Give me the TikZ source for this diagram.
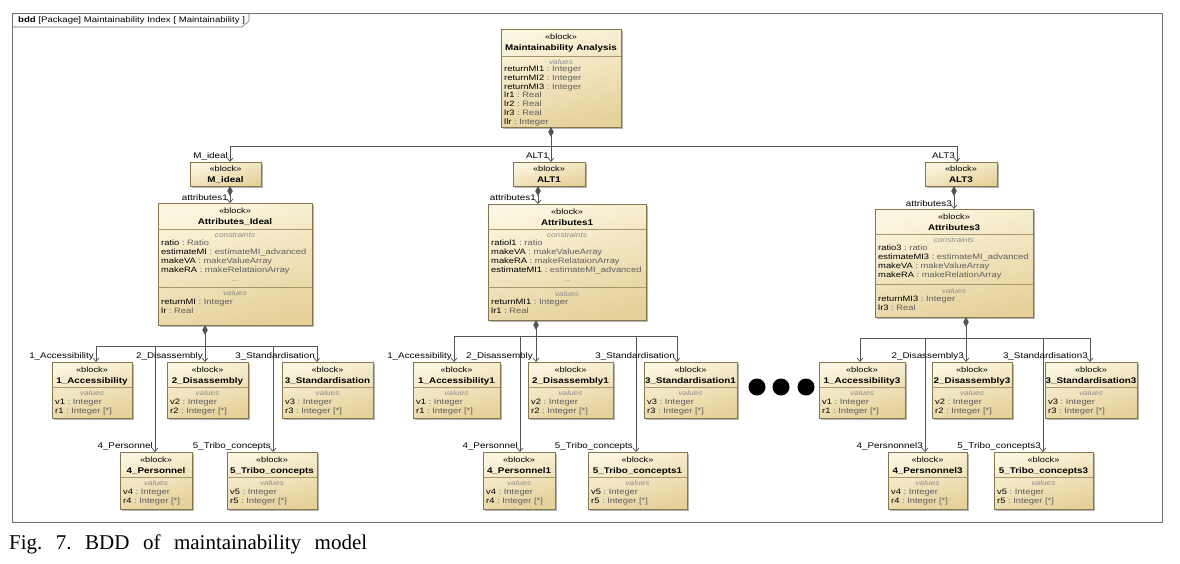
\documentclass[tikz,border=0pt]{standalone}
\usepackage{fontspec}
\setmainfont[FakeStretch=1.2]{Liberation Sans}
\newfontfamily\capfont{Liberation Serif}
\usetikzlibrary{arrows.meta,calc,shadows}

\definecolor{blkA}{HTML}{FCF6E0}
\definecolor{blkB}{HTML}{E5D19A}
\definecolor{blkD}{HTML}{86764E}
\definecolor{sepc}{HTML}{A8966A}
\definecolor{typec}{HTML}{5E5E5E}
\definecolor{hdc}{HTML}{8C8C8C}
\definecolor{linec}{HTML}{555555}
\definecolor{framec}{HTML}{707070}

\newcounter{tn}
\newcommand\fsz{\fontsize{7.8}{9}\selectfont}
\newcommand\lsz{\fontsize{8.2}{9}\selectfont}

\tikzset{
 blk/.style={draw=blkD, line width=0.6pt, top color=blkA, bottom color=blkB, shading angle=15,
   inner sep=0pt, outer sep=0pt,
   drop shadow={shadow xshift=1.8pt, shadow yshift=-1.8pt, opacity=0.4, fill=black!70}},
 txt/.style={inner sep=0pt, text height=5.6pt, text depth=0pt},
 stereo/.style={txt, font=\fontsize{7.7}{9}\selectfont},
 bname/.style={txt, font=\fontsize{8.2}{9}\selectfont\bfseries},
 comp/.style={txt, font=\fontsize{6.9}{8}\selectfont\itshape, text=hdc},
 itm/.style={txt, anchor=west, font=\fsz},
 lbl/.style={inner sep=0pt, anchor=base east, font=\lsz},
 sepline/.style={draw=sepc, line width=0.5pt},
 conn/.style={draw=linec, line width=0.7pt},
 arr/.style={-{Straight Barb[length=3.5pt,width=6pt]}},
 dia/.style={{Diamond[length=10pt,width=5.5pt]}-},
 diaarr/.style={{Diamond[length=10pt,width=5.5pt]}-{Straight Barb[length=3.5pt,width=6pt]}},
}

% box: name, x1, y1, x2, y2
\newcommand\bbox[5]{\node[blk, minimum width={(#4-#2)*1pt}, minimum height={(#5-#3)*1pt}] (#1) at ({(#2+#4)/2},{(#3+#5)/2}) {};}
\newcommand\bhead[4]{%
 \stepcounter{tn}\node[stereo] (t\arabic{tn}) at ($(#1.north)+(0,#2)$) {«block»};
 \stepcounter{tn}\node[bname] (t\arabic{tn}) at ($(#1.north)+(0,#3)$) {#4};}
\newcommand\bsep[2]{\draw[sepline] ($(#1.north west)+(0,#2)$) -- ($(#1.north east)+(0,#2)$);}
\newcommand\bcomp[3]{\stepcounter{tn}\node[comp] (t\arabic{tn}) at ($(#1.north)+(0,#2)$) {#3};}
\newcommand\bitem[4]{\stepcounter{tn}\node[itm] (t\arabic{tn}) at ($(#1.north west)+(3,#2)$) {#3\ \textcolor{typec}{:\ #4}};}
% small block: node, x1,y1,x2,y2, Name, v, r
\newcommand\sblk[8]{\bbox{#1}{#2}{#3}{#4}{#5}\bhead{#1}{7.5}{18.5}{#6}\bsep{#1}{25}\bcomp{#1}{31}{values}
 \bitem{#1}{39.5}{#7}{Integer}\bitem{#1}{48.5}{#8}{Integer [*]}}
\newcommand\lab[4]{\node[lbl] (#1) at (#2,#3) {#4};}

\begin{document}
\begin{tikzpicture}[x=1pt,y=-1pt]
\useasboundingbox (0,0) rectangle (1180,563);
\fill[white] (0,0) rectangle (1180,563);

% frame
\draw[draw=framec, line width=0.7pt] (12,13) rectangle (1162,522);
\draw[draw=framec, line width=0.6pt] (12,27) -- (242,27) -- (249,21) -- (249,13);
\node[txt, anchor=west, font=\fontsize{8}{9}\selectfont] (flbl) at (18,20) {\textbf{bdd} [Package] Maintainability Index [ Maintainability ]};

% top block
\bbox{ma}{501}{29}{621}{127}
\bhead{ma}{8}{19}{Maintainability Analysis}
\bsep{ma}{27}
\bcomp{ma}{33}{values}
\bitem{ma}{40}{returnMI1}{Integer}
\bitem{ma}{48.7}{returnMI2}{Integer}
\bitem{ma}{57.4}{returnMI3}{Integer}
\bitem{ma}{66.1}{lr1}{Real}
\bitem{ma}{74.8}{lr2}{Real}
\bitem{ma}{83.5}{lr3}{Real}
\bitem{ma}{92.2}{llr}{Integer}

% second level
\bbox{mideal}{190}{162}{261}{186}\bhead{mideal}{6.5}{17.5}{M\_ideal}
\bbox{alt1}{513}{162}{585}{186}\bhead{alt1}{6.5}{17.5}{ALT1}
\bbox{alt3}{925}{162}{997}{186}\bhead{alt3}{6.5}{17.5}{ALT3}

% attributes blocks
\bbox{aid}{158}{203}{312}{325}
\bhead{aid}{8}{19}{Attributes\_Ideal}
\bsep{aid}{26}\bcomp{aid}{32}{constraints}
\bitem{aid}{40}{ratio}{Ratio}
\bitem{aid}{49}{estimateMI}{estimateMI\_advanced}
\bitem{aid}{58}{makeVA}{makeValueArray}
\bitem{aid}{67}{makeRA}{makeRelataionArray}
\bcomp{aid}{76}{...}
\bsep{aid}{84}\bcomp{aid}{90}{values}
\bitem{aid}{99}{returnMI}{Integer}
\bitem{aid}{108}{lr}{Real}

\bbox{at1}{488}{204}{646}{320}
\bhead{at1}{7.5}{18.5}{Attributes1}
\bsep{at1}{25}\bcomp{at1}{31}{constraints}
\bitem{at1}{39}{ratiol1}{ratio}
\bitem{at1}{48}{makeVA}{makeValueArray}
\bitem{at1}{57}{makeRA}{makeRelataionArray}
\bitem{at1}{66}{estimateMI1}{estimateMI\_advanced}
\bcomp{at1}{75}{...}
\bsep{at1}{83}\bcomp{at1}{89.5}{values}
\bitem{at1}{98}{returnMI1}{Integer}
\bitem{at1}{107}{lr1}{Real}

\bbox{at3}{875}{209}{1033}{317}
\bhead{at3}{7.5}{18.5}{Attributes3}
\bsep{at3}{25}\bcomp{at3}{31}{constraints}
\bitem{at3}{39}{ratio3}{ratio}
\bitem{at3}{48}{estimateMI3}{estimateMI\_advanced}
\bitem{at3}{57}{makeVA}{makeValueArray}
\bitem{at3}{66}{makeRA}{makeRelationArray}
\bsep{at3}{75}\bcomp{at3}{82}{values}
\bitem{at3}{90}{returnMI3}{Integer}
\bitem{at3}{99}{lr3}{Real}

% leaf blocks
\sblk{acc1}{52}{362}{132}{418}{1\_Accessibility}{v1}{r1}
\sblk{dis1}{167}{362}{248}{418}{2\_Disassembly}{v2}{r2}
\sblk{std1}{282}{362}{373}{418}{3\_Standardisation}{v3}{r3}
\sblk{pers1}{120}{452}{192}{509}{4\_Personnel}{v4}{r4}
\sblk{tri1}{227}{452}{317}{509}{5\_Tribo\_concepts}{v5}{r5}

\sblk{acc2}{413}{362}{500}{418}{1\_Accessibility1}{v1}{r1}
\sblk{dis2}{528}{362}{613}{418}{2\_Disassembly1}{v2}{r2}
\sblk{std2}{644}{362}{737}{418}{3\_Standardisation1}{v3}{r3}
\sblk{pers2}{483}{452}{555}{509}{4\_Personnel1}{v4}{r4}
\sblk{tri2}{588}{452}{687}{509}{5\_Tribo\_concepts1}{v5}{r5}

\sblk{acc3}{819}{362}{905}{418}{1\_Accessibility3}{v1}{r1}
\sblk{dis3}{932}{362}{1012}{418}{2\_Disassembly3}{v2}{r2}
\sblk{std3}{1045}{362}{1137}{418}{3\_Standardisation3}{v3}{r3}
\sblk{pers3}{888}{452}{967}{509}{4\_Persnonnel3}{v4}{r4}
\sblk{tri3}{994}{452}{1093}{509}{5\_Tribo\_concepts3}{v5}{r5}

% dots
\fill (757,387) circle (8.5);
\fill (781,387) circle (8.5);
\fill (806,387) circle (8.5);

% top connectors
\coordinate (tj) at (551,146);
\draw[conn, dia] (ma.south -| tj) -- (tj);
\draw[conn, arr] (tj) -| ([xshift=4.5pt]mideal.north);
\draw[conn, arr] (tj) -- (tj |- alt1.north);
\draw[conn, arr] (tj) -| ([xshift=-4pt]alt3.north);

\coordinate (m1) at ([xshift=4.5pt]mideal.south);
\draw[conn, diaarr] (m1) -- (m1 |- aid.north);
\coordinate (a1) at ([xshift=-11pt]alt1.south);
\draw[conn, diaarr] (a1) -- (a1 |- at1.north);
\coordinate (a3) at ([xshift=-7pt]alt3.south);
\draw[conn, diaarr] (a3) -- (a3 |- at3.north);

% group 1
\coordinate (g1) at (205,346);
\draw[conn, dia] (g1 |- aid.south) -- (g1);
\draw[conn, arr] (g1) -| ([xshift=4pt]acc1.north);
\draw[conn, arr] (g1) -- (g1 |- dis1.north);
\draw[conn, arr] (g1) -| ([xshift=-10.5pt]std1.north);
\draw[conn, arr] (g1) -| ([xshift=-1pt]pers1.north);
\draw[conn, arr] (g1) -| ([xshift=1pt]tri1.north);

% group 2
\coordinate (g2) at (536,336);
\draw[conn, dia] (g2 |- at1.south) -- (g2);
\draw[conn, arr] (g2) -| ([xshift=-2.5pt]acc2.north);
\draw[conn, arr] (g2) -- (g2 |- dis2.north);
\draw[conn, arr] (g2) -| ([xshift=-13.5pt]std2.north);
\draw[conn, arr] (g2) -| ([xshift=1pt]pers2.north);
\draw[conn, arr] (g2) -| ([xshift=-1.5pt]tri2.north);

% group 3
\coordinate (g3) at (966,338);
\draw[conn, dia] (g3 |- at3.south) -- (g3);
\draw[conn, arr] (g3) -| ([xshift=-2pt]acc3.north);
\draw[conn, arr] (g3) -- (g3 |- dis3.north);
\draw[conn, arr] (g3) -| ([xshift=-1pt]std3.north);
\draw[conn, arr] (g3) -| ([xshift=-2.5pt]pers3.north);
\draw[conn, arr] (g3) -| ([xshift=-0.5pt]tri3.north);

% labels
\lab{l1}{228}{158.5}{M\_ideal}
\lab{l2}{549}{158.5}{ALT1}
\lab{l3}{955}{158.5}{ALT3}
\lab{l4}{228}{200.5}{attributes1}
\lab{l5}{536}{200.5}{attributes1}
\lab{l6}{952}{206}{attributes3}
\lab{l7}{94}{358}{1\_Accessibility}
\lab{l8}{203}{358}{2\_Disassembly}
\lab{l9}{315}{358}{3\_Standardisation}
\lab{l10}{153}{448}{4\_Personnel}
\lab{l11}{271}{448}{5\_Tribo\_concepts}
\lab{l12}{452}{358}{1\_Accessibility}
\lab{l13}{533}{358}{2\_Disassembly}
\lab{l14}{675}{358}{3\_Standardisation}
\lab{l15}{518}{448}{4\_Personnel}
\lab{l16}{633}{448}{5\_Tribo\_concepts}
\lab{l17}{964}{358}{2\_Disassembly3}
\lab{l18}{1088}{358}{3\_Standardisation3}
\lab{l19}{923}{448}{4\_Persnonnel3}
\lab{l20}{1041}{448}{5\_Tribo\_concepts3}

% caption
\node[inner sep=0pt, anchor=base west, font=\capfont\fontsize{21}{24}\selectfont] (cap) at (9,549)
 {\spaceskip=13.5pt\xspaceskip=13.5pt Fig. 7. BDD of maintainability model};
\end{tikzpicture}
\end{document}
